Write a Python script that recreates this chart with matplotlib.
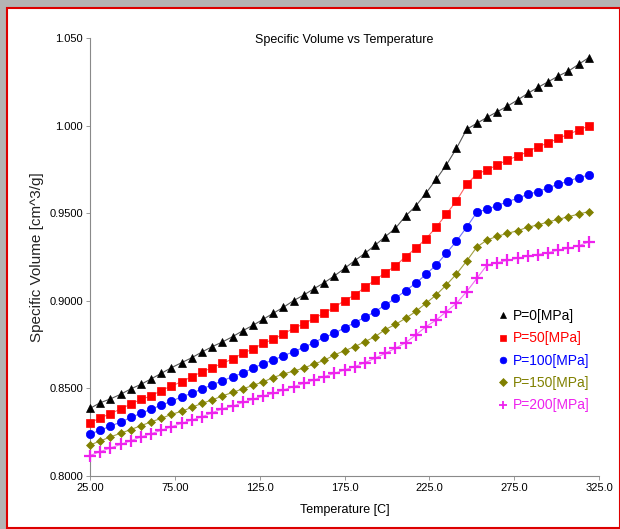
import matplotlib
matplotlib.use("Agg")
import matplotlib.pyplot as plt
from matplotlib.patches import Rectangle
from matplotlib.lines import Line2D

plt.rcParams["font.family"] = ["Liberation Sans", "DejaVu Sans"]

# temperature grid [C]
temps = list(range(25, 320, 6))

# specific volume [cm^3/g]
p0 = [0.8386, 0.8418, 0.8440, 0.8466, 0.8497, 0.8523, 0.8554, 0.8586, 0.8618, 0.8647,
      0.8675, 0.8708, 0.8738, 0.8765, 0.8795, 0.8829, 0.8860, 0.8894, 0.8929, 0.8963,
      0.9001, 0.9033, 0.9069, 0.9103, 0.9142, 0.9185, 0.9229, 0.9271, 0.9317, 0.9366,
      0.9414, 0.9484, 0.9541, 0.9614, 0.9693, 0.9775, 0.9870, 0.9979, 1.0013, 1.0047,
      1.0079, 1.0111, 1.0146, 1.0184, 1.0218, 1.0250, 1.0283, 1.0311, 1.0350, 1.0388]
p50 = [0.8304, 0.8331, 0.8356, 0.8382, 0.8411, 0.8437, 0.8457, 0.8488, 0.8514, 0.8538,
       0.8567, 0.8594, 0.8618, 0.8643, 0.8668, 0.8700, 0.8725, 0.8757, 0.8780, 0.8811,
       0.8843, 0.8868, 0.8900, 0.8929, 0.8963, 0.9001, 0.9033, 0.9077, 0.9119, 0.9160,
       0.9199, 0.9252, 0.9300, 0.9354, 0.9420, 0.9494, 0.9571, 0.9664, 0.9724, 0.9747,
       0.9775, 0.9804, 0.9826, 0.9851, 0.9880, 0.9900, 0.9928, 0.9950, 0.9975, 0.9998]
p100 = [0.8240, 0.8261, 0.8285, 0.8307, 0.8334, 0.8358, 0.8381, 0.8405, 0.8426, 0.8453,
        0.8472, 0.8497, 0.8521, 0.8543, 0.8567, 0.8588, 0.8615, 0.8642, 0.8662, 0.8687,
        0.8709, 0.8735, 0.8761, 0.8792, 0.8814, 0.8846, 0.8875, 0.8906, 0.8938, 0.8976,
        0.9014, 0.9058, 0.9100, 0.9151, 0.9204, 0.9271, 0.9341, 0.9420, 0.9505, 0.9524,
        0.9543, 0.9566, 0.9585, 0.9608, 0.9623, 0.9646, 0.9665, 0.9684, 0.9703, 0.9718]
p150 = [0.8177, 0.8200, 0.8223, 0.8244, 0.8265, 0.8287, 0.8309, 0.8329, 0.8352, 0.8369,
        0.8392, 0.8415, 0.8434, 0.8457, 0.8477, 0.8497, 0.8517, 0.8537, 0.8562, 0.8582,
        0.8599, 0.8616, 0.8639, 0.8660, 0.8691, 0.8715, 0.8738, 0.8767, 0.8795, 0.8836,
        0.8865, 0.8900, 0.8939, 0.8986, 0.9033, 0.9090, 0.9153, 0.9227, 0.9307, 0.9347,
        0.9368, 0.9385, 0.9400, 0.9420, 0.9433, 0.9450, 0.9465, 0.9480, 0.9495, 0.9509]
p200 = [0.8117, 0.8139, 0.8160, 0.8180, 0.8201, 0.8223, 0.8241, 0.8261, 0.8281, 0.8301,
        0.8320, 0.8338, 0.8361, 0.8384, 0.8398, 0.8420, 0.8438, 0.8457, 0.8472, 0.8491,
        0.8510, 0.8529, 0.8548, 0.8567, 0.8586, 0.8605, 0.8624, 0.8647, 0.8672, 0.8700,
        0.8729, 0.8761, 0.8805, 0.8852, 0.8890, 0.8938, 0.8986, 0.9052, 0.9128, 0.9204,
        0.9217, 0.9231, 0.9243, 0.9255, 0.9264, 0.9274, 0.9290, 0.9300, 0.9314, 0.9336]

labels = ["P=0[MPa]", "P=50[MPa]", "P=100[MPa]", "P=150[MPa]", "P=200[MPa]"]
colors = ["#000000", "#ff0000", "#0000ff", "#808000", "#ee22ee"]
line_colors = ["#555555", "#ff6060", "#7070ff", "#a0a040", "#f070f0"]
markers = ["^", "s", "o", "D", "+"]
msizes = [6, 5.5, 6, 4.5, 8]

xticks = [25, 75, 125, 175, 225, 275, 325]
xticklabels = ["25.00", "75.00", "125.0", "175.0", "225.0", "275.0", "325.0"]
yticks = [0.80, 0.85, 0.90, 0.95, 1.00, 1.05]
yticklabels = ["0.8000", "0.8500", "0.9000", "0.9500", "1.000", "1.050"]

W, H = 620, 529
fig = plt.figure(figsize=(6.2, 5.29), dpi=100)
fig.patch.set_facecolor("#b4b4b4")
fig.add_artist(Rectangle((7 / W, 1 / H), 613 / W, 520 / H, transform=fig.transFigure,
                         facecolor="white", edgecolor="#dd0000", lw=1.5, zorder=0))

ax = fig.add_axes([90 / W, 53 / H, 509 / W, 438 / H])
ax.set_facecolor("none")

series = [p0, p50, p100, p150, p200]
for vals, lab, c, lc, m, ms in zip(series, labels, colors, line_colors, markers, msizes):
    ax.plot(temps, vals, color=lc, lw=0.8, zorder=2, clip_on=False)
    ax.plot(temps, vals, linestyle="none", marker=m, color=c, markersize=ms,
            mew=1.6 if m == "+" else 0.5, zorder=3, clip_on=False)

ax.set_xlim(25, 325)
ax.set_ylim(0.80, 1.05)
ax.set_xticks(xticks)
ax.set_xticklabels(xticklabels)
ax.set_yticks(yticks)
ax.set_yticklabels(yticklabels)
for s in ["top", "right"]:
    ax.spines[s].set_visible(False)
for s in ["left", "bottom"]:
    ax.spines[s].set_color("#8a8a8a")
    ax.spines[s].set_linewidth(0.8)
ax.tick_params(direction="out", length=3, width=0.6, color="#8a8a8a", labelsize=8, pad=2)

ax.set_xlabel("Temperature [C]", fontsize=9)
ax.xaxis.set_label_coords(0.5, -0.065)
ax.set_ylabel("Specific Volume [cm^3/g]", fontsize=11, color="#222222")
ax.yaxis.set_label_coords(-0.09, 0.5)

fig.text(344.5 / W, 1 - 40 / H, "Specific Volume vs Temperature", ha="center", va="center",
         fontsize=9)

handles = [Line2D([], [], linestyle="none", marker=m, color=c, markersize=ms * 0.8,
                  mew=1.3 if m == "+" else 0.5)
           for m, c, ms in zip(markers, colors, msizes)]
ax.legend(handles, labels, loc="upper left", bbox_to_anchor=(0.79, 0.397), frameon=False,
          fontsize=10, labelcolor=colors, handlelength=0.6, handletextpad=0.4,
          labelspacing=0.6, borderpad=0)

fig.savefig("out.png", dpi=100, facecolor=fig.get_facecolor())
